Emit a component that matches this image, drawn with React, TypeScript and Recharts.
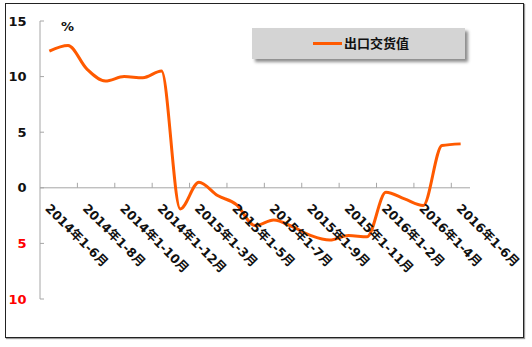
import React from 'react';
import { Line, LineChart, ReferenceLine, XAxis, YAxis } from 'recharts';

// 23 cumulative periods, labelled every second one
const PERIODS = [
  '2014年1-6月', '2014年1-7月', '2014年1-8月', '2014年1-9月', '2014年1-10月', '2014年1-11月', '2014年1-12月',
  '2015年1-2月', '2015年1-3月', '2015年1-4月', '2015年1-5月', '2015年1-6月', '2015年1-7月', '2015年1-8月',
  '2015年1-9月', '2015年1-10月', '2015年1-11月', '2015年1-12月',
  '2016年1-2月', '2016年1-3月', '2016年1-4月', '2016年1-5月', '2016年1-6月',
];
const EXPORT_DELIVERY = [
  12.3, 12.8, 10.7, 9.6, 10.0, 9.9, 10.5,
  -1.9, 0.5, -0.7, -1.5, -3.4, -2.9, -3.5, -4.3, -4.7, -4.3, -4.4,
  -0.4, -1.0, -1.6, 3.8, 3.95,
];
const Y_TICKS = [-10, -5, 0, 5, 10, 15];
const X_TICKS = [0, 2, 4, 6, 8, 10, 12, 14, 16, 18, 20, 22];
const SERIES_NAME = '出口交货值';

const W = 532;
const H = 347;
const TOP = 21;
const BOTTOM_H = 48;
const PLOT_H = H - TOP - BOTTOM_H;
const Y_MIN = -10;
const Y_MAX = 15;
const AXIS = '#a6a6a6';
const ORANGE = '#ff5a00';
const FONT = '"DejaVu Sans", "Noto Sans CJK SC", sans-serif';

const data = EXPORT_DELIVERY.map((v, i) => ({ x: i + 0.5, name: PERIODS[i], v }));

const XTick = (props: any) => {
  const { x, y, payload } = props;
  // labels and tick marks hang off the zero line, not the plot bottom
  const zeroY = y - (PLOT_H * (0 - Y_MIN)) / (Y_MAX - Y_MIN);
  const ax = x + 4.5;
  const ay = zeroY + 21.5;
  return (
    <g>
      {payload.value > 0 && <line x1={x} x2={x} y1={zeroY - 5} y2={zeroY} stroke={AXIS} />}
      <text
        x={ax}
        y={ay}
        transform={`rotate(45 ${ax} ${ay})`}
        textAnchor="start"
        fontFamily={FONT}
        fontSize={12.5}
        fontWeight="bold"
        fill="#111"
      >
        {PERIODS[payload.value]}
      </text>
    </g>
  );
};

const YTick = (props: any) => {
  const { x, y, payload } = props;
  const v = payload.value as number;
  return (
    <g>
      <line x1={x} x2={x + 4} y1={y} y2={y} stroke={AXIS} />
      <text
        x={x - 13.5}
        y={y}
        dy="0.36em"
        textAnchor="end"
        fontFamily={FONT}
        fontSize={13}
        fontWeight="bold"
        fill={v < 0 ? '#ff0000' : '#111'}
      >
        {Math.abs(v)}
      </text>
    </g>
  );
};

export default function App() {
  return (
    <div style={{ position: 'absolute', left: 0, top: 0, width: W, height: H, background: '#fff' }}>
      <div
        style={{
          position: 'absolute',
          left: 5,
          top: 3,
          width: 519,
          height: 335,
          border: '1.5px solid #222',
          boxSizing: 'border-box',
          boxShadow: '1px 1px 1px #999',
        }}
      />
      <LineChart width={W} height={H} data={data} margin={{ top: TOP, right: 62, bottom: 0, left: 0 }}>
        <XAxis
          type="number"
          dataKey="x"
          domain={[0, 23]}
          ticks={X_TICKS}
          interval={0}
          height={BOTTOM_H}
          axisLine={false}
          tickLine={false}
          tickSize={0}
          tickMargin={0}
          tick={<XTick />}
        />
        <YAxis
          domain={[Y_MIN, Y_MAX]}
          ticks={Y_TICKS}
          width={40}
          interval={0}
          axisLine={{ stroke: AXIS }}
          tickLine={false}
          tickSize={0}
          tickMargin={0}
          tick={<YTick />}
        />
        <ReferenceLine y={0} stroke={AXIS} strokeWidth={1} />
        <Line
          dataKey="v"
          name={SERIES_NAME}
          type="monotone"
          stroke={ORANGE}
          strokeWidth={3}
          dot={false}
          isAnimationActive={false}
        />
      </LineChart>
      <div
        style={{
          position: 'absolute',
          left: 61,
          top: 19,
          fontFamily: FONT,
          fontSize: 13,
          fontWeight: 'bold',
          color: '#111',
        }}
      >
        %
      </div>
      <div
        style={{
          position: 'absolute',
          left: 252,
          top: 28,
          width: 213,
          height: 31,
          background: '#d4d4d4',
          boxShadow: '3px 3px 3px rgba(0,0,0,0.45)',
        }}
      >
        <div style={{ position: 'absolute', left: 61, top: 14, width: 29, height: 3, background: ORANGE }} />
        <div
          style={{
            position: 'absolute',
            left: 92,
            top: 6,
            fontFamily: FONT,
            fontSize: 13,
            fontWeight: 'bold',
            color: '#111',
            lineHeight: '19px',
          }}
        >
          {SERIES_NAME}
        </div>
      </div>
    </div>
  );
}
